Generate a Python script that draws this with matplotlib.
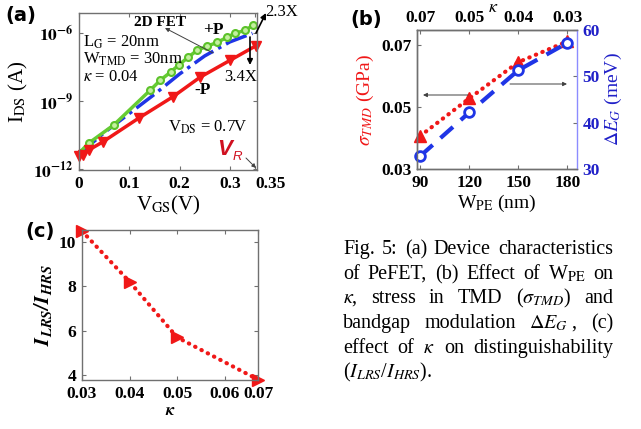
import numpy as np
import matplotlib.pyplot as plt
from matplotlib.ticker import NullLocator

plt.rcParams['font.family'] = ['Liberation Serif', 'DejaVu Serif']
plt.rcParams['mathtext.fontset'] = 'stix'

W, H = 641, 429


def fp(x, y):
    # pixel position measured from the top left -> figure fraction
    return x / W, 1 - y / H


# ---- (a) I_DS vs V_GS, values are log10(I_DS / A)
vgs_pos = [0, 0.02, 0.069, 0.142, 0.162, 0.182, 0.198, 0.217, 0.235, 0.255, 0.275, 0.294, 0.31, 0.33, 0.346]
log_ids_pos = [-11.3, -10.85, -10.06, -8.51, -8.07, -7.72, -7.41, -7.06, -6.75, -6.57, -6.4, -6.18, -6.0, -5.87, -5.65]
vgs_fet = [0, 0.05, 0.1, 0.15, 0.2, 0.25, 0.3, 0.345]
log_ids_fet = [-11.35, -10.4, -9.55, -8.7, -7.8, -7.0, -6.38, -6.0]
vgs_neg = [0, 0.007, 0.02, 0.047, 0.119, 0.186, 0.241, 0.30, 0.352]
log_ids_neg = [-11.45, -11.38, -11.16, -10.81, -9.75, -8.82, -7.94, -7.2, -6.55]

# ---- (b) effect of W_PE
w_pe = [90, 120, 150, 180]
kappa_labels = ['0.07', '0.05', '0.04', '0.03']
sigma_tmd = [0.0407, 0.0528, 0.0645, 0.0712]
delta_eg = [32.8, 42.2, 51.3, 57.2]

# ---- (c) distinguishability vs kappa
kappa = [0.03, 0.04, 0.05, 0.067]
ratio_lrs_hrs = [10.48, 8.2, 5.7, 3.8]

RED = '#f01818'
BLUE = '#1f35e6'
GREEN = '#66cc33'
GRAY = '#707070'
DOTS = (0, (0.1, 1.6))

fig = plt.figure(figsize=(W / 100, H / 100), dpi=100)


def style(ax, top=True, right=True):
    ax.tick_params(direction='in', length=3, width=0.8, color=GRAY, top=top, right=right, pad=4)
    for s in ax.spines.values():
        s.set_color(GRAY)
        s.set_linewidth(1.0)


# ================= (a) =================
ax_a = fig.add_axes([79 / W, 1 - 170 / H, 178 / W, 157 / H])
ax_a.semilogy(vgs_fet, 10 ** np.array(log_ids_fet), '-.', color=BLUE, lw=2.5)
ax_a.semilogy(vgs_pos, 10 ** np.array(log_ids_pos), '-o', color=GREEN, lw=2.5,
              ms=5, mfc='#c4f0a0', mec='#5cc22a', mew=1.5)
ax_a.semilogy(vgs_neg, 10 ** np.array(log_ids_neg), '-v', color=RED, lw=2.5, ms=7, clip_on=False)
ax_a.set_xlim(0, 0.354)
ax_a.set_ylim(10 ** -12.05, 10 ** -5.1)
ax_a.set_xticks([0, 0.1, 0.2, 0.3, 0.35], labels=['0', '0.1', '0.2', '0.3', '0.35'],
                fontweight='bold', fontsize=12.5)
ax_a.get_xticklabels()[-1].set_ha('left')
ax_a.set_yticks([1e-12, 1e-9, 1e-6],
                labels=[r'$\mathbf{10^{-12}}$', r'$\mathbf{10^{-9}}$', r'$\mathbf{10^{-6}}$'],
                fontsize=12.5)
ax_a.yaxis.set_minor_locator(NullLocator())
style(ax_a)
ax_a.set_ylabel(r'I$_{\rm DS}$ (A)', fontsize=15, labelpad=2)
ax_a.set_xlabel(r'V$_{\rm GS}$(V)', fontsize=15, labelpad=2)

t_kw = dict(transform=fig.transFigure, fontsize=12)
ax_a.text(*fp(83, 42), r'L$_{\rm G}$ = 20nm', va='center', **t_kw)
ax_a.text(*fp(83, 59), r'W$_{\rm TMD}$ = 30nm', va='center', **t_kw)
ax_a.text(*fp(83, 77), r'$\kappa$ = 0.04', va='center', **t_kw)
ax_a.text(*fp(168, 127), r'V$_{\rm DS}$ = 0.7V', va='center', **t_kw)
ax_a.text(*fp(160, 22), '2D FET', ha='center', va='center', fontweight='bold',
          transform=fig.transFigure, fontsize=11)
ax_a.text(*fp(213, 30), '+P', ha='center', va='center', fontweight='bold',
          transform=fig.transFigure, fontsize=12.5)
ax_a.text(*fp(203, 90), '-P', ha='center', va='center', fontweight='bold',
          transform=fig.transFigure, fontsize=12.5)
ax_a.text(*fp(282, 12), '2.3X', ha='center', va='center', **t_kw)
ax_a.text(*fp(241, 77), '3.4X', ha='center', va='center', **t_kw)
fig.text(*fp(225, 150), 'V', ha='center', va='center', color='#d01020', fontsize=16,
         fontweight='bold', fontstyle='italic', family='Liberation Sans')
fig.text(*fp(237, 157), 'R', ha='center', va='center', color='#d01020', fontsize=9.5,
         fontstyle='italic', family='Liberation Sans')

arr_thin = dict(arrowstyle='-|>', color='#404040', lw=0.7, mutation_scale=6, shrinkA=0, shrinkB=0)
arr_blk = dict(arrowstyle='-|>', color='black', lw=1.2, mutation_scale=8, shrinkA=0, shrinkB=0)
ax_a.annotate('', xy=fp(165, 28), xytext=fp(213, 53), xycoords='figure fraction',
              textcoords='figure fraction', arrowprops=arr_thin)
ax_a.annotate('', xy=fp(256, 168), xytext=fp(246, 158), xycoords='figure fraction',
              textcoords='figure fraction', arrowprops=arr_thin, annotation_clip=False)
ax_a.annotate('', xy=fp(266, 13), xytext=fp(256, 33), xycoords='figure fraction',
              textcoords='figure fraction', arrowprops=arr_blk, annotation_clip=False)
ax_a.annotate('', xy=fp(250, 65), xytext=fp(250, 37), xycoords='figure fraction',
              textcoords='figure fraction', arrowprops=arr_blk)

# ================= (b) =================
ax_b = fig.add_axes([417 / W, 1 - 169 / H, 160 / W, 139 / H])
ax_b.plot(w_pe, sigma_tmd, color=RED, lw=3, ls=DOTS, dash_capstyle='round',
          marker='^', ms=9, clip_on=False)
ax_b.set_xlim(88, 186)
ax_b.set_ylim(0.03, 0.0749)
ax_b.set_xticks(w_pe, labels=[str(w) for w in w_pe], fontweight='bold', fontsize=12.5)
ax_b.set_yticks([0.03, 0.05, 0.07], labels=['0.03', '0.05', '0.07'], fontweight='bold', fontsize=12.5)
style(ax_b, top=False, right=False)
ax_b.spines['right'].set_visible(False)
ax_b.set_ylabel(r'$\sigma_{TMD}$ (GPa)', color=RED, fontsize=14, labelpad=4)
ax_b.set_xlabel(r'W$_{\rm PE}$ (nm)', fontsize=14, labelpad=2)

ax_b2 = ax_b.twinx()
ax_b2.plot(w_pe, delta_eg, color=BLUE, lw=3, ls=(0, (4, 2.5)), marker='o', ms=7,
           mfc='white', mec=BLUE, mew=2, clip_on=False)
ax_b2.set_ylim(30, 60)
ax_b2.set_yticks([30, 40, 50, 60], labels=['30', '40', '50', '60'], fontweight='bold',
                 fontsize=12.5, color='#2020c8')
style(ax_b2, top=False, right=True)
ax_b2.tick_params(left=False)
ax_b2.spines['right'].set_color('#8c8cff')
ax_b2.set_ylabel(r'$\Delta E_G$ (meV)', color='#2020c8', fontsize=14, labelpad=2)

sec = ax_b.secondary_xaxis('top')
sec.set_xticks(w_pe, labels=kappa_labels, fontweight='bold', fontsize=12.5)
sec.tick_params(direction='in', length=3, color=GRAY, pad=3)
sec.spines['top'].set_color(GRAY)
fig.text(*fp(493, 8), r'$\kappa$', ha='center', va='center', fontsize=13)

ax_b.annotate('', xy=fp(423, 95), xytext=fp(468, 95), xycoords='figure fraction',
              textcoords='figure fraction', arrowprops=arr_thin)
ax_b.annotate('', xy=fp(567, 84), xytext=fp(510, 84), xycoords='figure fraction',
              textcoords='figure fraction', arrowprops=arr_thin)

# ================= (c) =================
ax_c = fig.add_axes([82 / W, 1 - 380 / H, 176 / W, 150 / H])
ax_c.plot(kappa, ratio_lrs_hrs, color=RED, lw=3, ls=DOTS, dash_capstyle='round',
          marker='>', ms=9, clip_on=False)
ax_c.set_xlim(0.03, 0.067)
ax_c.set_ylim(3.78, 10.53)
ax_c.set_xticks([0.03, 0.04, 0.05, 0.06, 0.067], labels=['0.03', '0.04', '0.05', '0.06', '0.07'],
                fontweight='bold', fontsize=12.5)
ax_c.set_yticks([4, 6, 8, 10], labels=['4', '6', '8', '10'], fontweight='bold', fontsize=12.5)
style(ax_c)
ax_c.set_ylabel(r'$\mathbfit{I_{LRS}/I_{HRS}}$', fontsize=15, labelpad=4)
ax_c.set_xlabel(r'$\mathbfit{\kappa}$', fontsize=12, labelpad=1)

# panel labels
for lab, (x, y) in [('(a)', (21, 15)), ('(b)', (366, 20)), ('(c)', (40, 232))]:
    fig.text(*fp(x, y), lab, ha='center', va='center', fontsize=14, fontweight='bold',
             family='DejaVu Sans')

# ================= caption (justified lines) =================
caption = [
    ['Fig.', '5:', '(a)', 'Device', 'characteristics'],
    ['of', 'PeFET,', '(b)', 'Effect', 'of', r'W$_{\rm PE}$', 'on'],
    [r'$\kappa$,', 'stress', 'in', 'TMD', r'($\sigma_{TMD}$)', 'and'],
    ['bandgap', 'modulation', r'$\Delta E_G$ ,', '(c)'],
    ['effect', 'of', r'$\kappa$', 'on', 'distinguishability'],
]
last_line = r'($I_{LRS}$/$I_{HRS}$).'
line_y = [254, 279, 303, 328, 353]
x0, x1 = 343, 613
cap_size = 14.5
renderer = fig.canvas.get_renderer()
for words, y in zip(caption, line_y):
    texts = [fig.text(0, 0, w, fontsize=cap_size, va='baseline') for w in words]
    widths = [t.get_window_extent(renderer).width for t in texts]
    gap = (x1 - x0 - sum(widths)) / (len(words) - 1)
    x = x0
    for t, w in zip(texts, widths):
        t.set_position(fp(x, y))
        x += w + gap
fig.text(*fp(x0, 377), last_line, fontsize=cap_size, va='baseline')

fig.savefig('out.png', dpi=100)
